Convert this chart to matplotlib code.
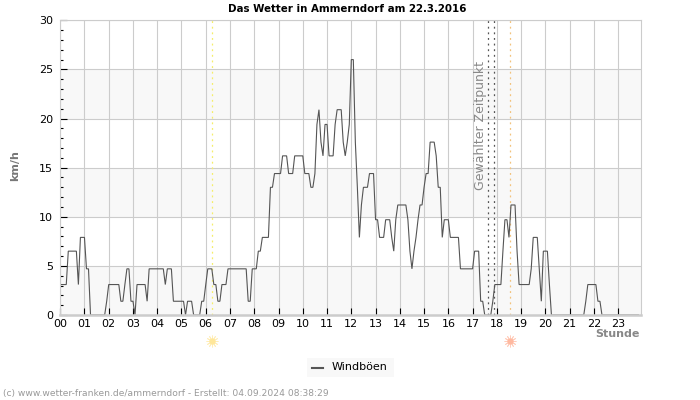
import matplotlib
matplotlib.use("Agg")
import matplotlib.pyplot as plt
from matplotlib.patches import Rectangle
from matplotlib.lines import Line2D

# --- Data: gusts in km/h, one row per hour, one value every 5 minutes ---
h00 = [3.1, 3.1, 3.1, 3.1, 6.5, 6.5, 6.5, 6.5, 6.5, 3.1, 7.9, 7.9]
h01 = [7.9, 4.7, 4.7, 0, 0, 0, 0, 0, 0, 0, 0, 1.4]
h02 = [3.1, 3.1, 3.1, 3.1, 3.1, 3.1, 1.4, 1.4, 3.1, 4.7, 4.7, 1.4]
h03 = [1.4, 0, 3.1, 3.1, 3.1, 3.1, 3.1, 1.4, 4.7, 4.7, 4.7, 4.7]
h04 = [4.7, 4.7, 4.7, 4.7, 3.1, 4.7, 4.7, 4.7, 1.4, 1.4, 1.4, 1.4]
h05 = [1.4, 1.4, 0, 1.4, 1.4, 1.4, 0, 0, 0, 0, 1.4, 1.4]
h06 = [3.1, 4.7, 4.7, 4.7, 3.1, 3.1, 1.4, 1.4, 3.1, 3.1, 3.1, 4.7]
h07 = [4.7, 4.7, 4.7, 4.7, 4.7, 4.7, 4.7, 4.7, 4.7, 1.4, 1.4, 4.7]
h08 = [4.7, 4.7, 6.5, 6.5, 7.9, 7.9, 7.9, 7.9, 13, 13, 14.4, 14.4]
h09 = [14.4, 14.4, 16.2, 16.2, 16.2, 14.4, 14.4, 14.4, 16.2, 16.2, 16.2, 16.2]
h10 = [16.2, 14.4, 14.4, 14.4, 13, 13, 14.4, 19.4, 20.9, 17.6, 16.2, 19.4]
h11 = [19.4, 16.2, 16.2, 16.2, 19.4, 20.9, 20.9, 20.9, 17.6, 16.2, 17.6, 19.4]
h12 = [26, 26, 17.6, 13, 7.9, 11.2, 13, 13, 13, 14.4, 14.4, 14.4]
h13 = [9.7, 9.7, 7.9, 7.9, 7.9, 9.7, 9.7, 9.7, 7.9, 6.5, 9.7, 11.2]
h14 = [11.2, 11.2, 11.2, 11.2, 9.7, 6.5, 4.7, 6.5, 7.9, 9.7, 11.2, 11.2]
h15 = [13, 14.4, 14.4, 17.6, 17.6, 17.6, 16.2, 13, 13, 7.9, 9.7, 9.7]
h16 = [9.7, 7.9, 7.9, 7.9, 7.9, 7.9, 4.7, 4.7, 4.7, 4.7, 4.7, 4.7]
h17 = [4.7, 6.5, 6.5, 6.5, 1.4, 1.4, 0, 0, 0, 0, 1.4, 3.1]
h18 = [3.1, 3.1, 3.1, 6.5, 9.7, 9.7, 7.9, 11.2, 11.2, 11.2, 6.5, 3.1]
h19 = [3.1, 3.1, 3.1, 3.1, 3.1, 4.7, 7.9, 7.9, 7.9, 4.7, 1.4, 6.5]
h20 = [6.5, 6.5, 3.1, 0, 0, 0, 0, 0, 0, 0, 0, 0]
h21 = [0, 0, 0, 0, 0, 0, 0, 0, 1.4, 3.1, 3.1, 3.1]
h22 = [3.1, 3.1, 1.4, 1.4, 0, 0, 0, 0, 0, 0, 0, 0]
h23 = [0, 0, 0, 0, 0, 0, 0, 0, 0, 0, 0]

gust = (h00 + h01 + h02 + h03 + h04 + h05 + h06 + h07 + h08 + h09 + h10 + h11
        + h12 + h13 + h14 + h15 + h16 + h17 + h18 + h19 + h20 + h21 + h22 + h23)
times = [i / 12 for i in range(len(gust))]

hour_labels = ["%02d" % h for h in range(24)]
y_ticks = [0, 5, 10, 15, 20, 25, 30]
sunrise = 6.25
sunset = 18.55
selected = [17.65, 17.9]

# --- Figure, axes placed on the pixel frame of the reference ---
W, H = 700, 400
fig = plt.figure(figsize=(W / 100, H / 100), dpi=100)
ax = fig.add_axes([60.2 / W, (H - 315) / H, 580.5 / W, 294.7 / H])
ax.set_xlim(0, 23.93)
ax.set_ylim(0, 30)

# shaded bands and grid
for low in [0, 10, 20]:
    ax.axhspan(low, low + 5, color="#f8f8f8", lw=0, zorder=0)
ax.set_xticks(range(24))
ax.set_xticklabels(hour_labels)
ax.set_yticks(y_ticks)
ax.set_yticks([v for v in range(31) if v % 5], minor=True)
ax.grid(True, which="major", color="#cccccc", lw=0.8, zorder=1)
ax.set_axisbelow(True)
ax.tick_params(axis="both", which="major", direction="in", length=5, width=0.8,
               color="black", labelsize=8)
ax.tick_params(axis="y", which="major", pad=5)
ax.tick_params(axis="y", which="minor", direction="in", length=2.5, width=0.8, color="black")
ax.tick_params(axis="x", which="major", pad=3)
for s in ax.spines.values():
    s.set_color("#cccccc")
    s.set_linewidth(0.8)
    s.set_zorder(5)
# the flat zero stretches of the line sit behind the bottom axis line
ax.spines["bottom"].set_linewidth(1.8)

# --- Series and vertical markers ---
ax.plot(times, gust, color="#555555", lw=0.8, zorder=3, solid_joinstyle="miter")
ax.axvline(sunrise, color="#f5ee6a", lw=0.9, ls=(0, (1.5, 3)), zorder=2)
ax.axvline(sunset, color="#f2c27c", lw=0.9, ls=(0, (1.5, 3)), zorder=2)
for t in selected:
    ax.axvline(t, color="#555555", lw=0.9, ls=(0, (1.5, 3)), zorder=2)
ax.text(17.6, 12.7, "Gewählter Zeitpunkt", rotation=90, color="#888888", fontsize=9,
        ha="right", va="bottom", zorder=4)

# sun symbols below the axis
trans = ax.get_xaxis_transform()
for t, c in [(sunrise, "#ffe79a"), (sunset, "#ffb9a0")]:
    ax.plot([t], [-0.088], marker="o", ms=4.5, color=c, mew=0, transform=trans, clip_on=False)
    ax.plot([t], [-0.088], marker=(12, 2, 0), ms=8.5, color=c, mew=0.6, alpha=0.7,
            transform=trans, clip_on=False)

# --- Texts ---
fig.text(347.5 / W, 1 - 8.5 / H, "Das Wetter in Ammerndorf am 22.3.2016", ha="center", va="center",
         fontsize=7.4, fontweight="bold", color="black")
fig.text(15 / W, 1 - 166 / H, "km/h", rotation=90, ha="center", va="center",
         fontsize=8, fontweight="bold", color="#777777")
fig.text(640 / W, 1 - 334 / H, "Stunde", ha="right", va="center",
         fontsize=8, fontweight="bold", color="#888888")
fig.text(3 / W, 1 - 393.5 / H, "(c) www.wetter-franken.de/ammerndorf - Erstellt: 04.09.2024 08:38:29",
         ha="left", va="center", fontsize=6.6, color="#999999")

# --- Legend ---
fig.add_artist(Rectangle((307 / W, 1 - 377 / H), 87 / W, 19 / H, transform=fig.transFigure,
                         facecolor="#f8f8f8", edgecolor="none"))
fig.add_artist(Line2D([312 / W, 323 / W], [1 - 368 / H, 1 - 368 / H], transform=fig.transFigure,
                      color="#555555", lw=1.5))
fig.text(332 / W, 1 - 366.5 / H, "Windböen", ha="left", va="center", fontsize=8, color="black")

fig.savefig("out.png", dpi=100)
